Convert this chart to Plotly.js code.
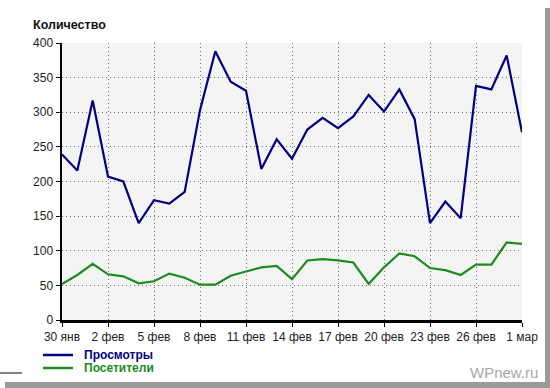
<!DOCTYPE html>
<html>
<head>
<meta charset="utf-8">
<script src="https://cdn.plot.ly/plotly-3.0.1.min.js"></script>
<style>
html,body{margin:0;padding:0;background:#fff;}
#chart{width:550px;height:388px;}
</style>
</head>
<body>
<div id="chart"></div>
<script>
const days = ["30 янв","31 янв","1 фев","2 фев","3 фев","4 фев","5 фев","6 фев","7 фев","8 фев","9 фев","10 фев","11 фев","12 фев","13 фев","14 фев","15 фев","16 фев","17 фев","18 фев","19 фев","20 фев","21 фев","22 фев","23 фев","24 фев","25 фев","26 фев","27 фев","28 фев","1 мар"];
const views = [239,216,317,207,200,140,173,168,185,303,388,344,331,218,261,233,275,292,277,294,325,301,333,290,140,171,147,338,333,382,271];
const visitors = [52,65,81,66,63,53,56,67,61,51,51,64,70,76,78,59,86,88,86,83,52,76,96,92,75,72,65,80,80,112,110];
const tickLabels = ["30 янв","2 фев","5 фев","8 фев","11 фев","14 фев","17 фев","20 фев","23 фев","26 фев","1 мар"];
const seriesNames = ["Просмотры","Посетители"];
const seriesColors = ["#000080","#1E8B1E"];

const traces = [
  {x: days, y: views, type:'scatter', mode:'lines', name:seriesNames[0],
   line:{color:seriesColors[0], width:2.2}},
  {x: days, y: visitors, type:'scatter', mode:'lines', name:seriesNames[1],
   line:{color:seriesColors[1], width:2.2}}
];

// legend drawn as shapes + annotations (pixel positions converted to paper coords)
const PL = 62, PW = 460, PB = 320, PH = 277;
const px = v => (v - PL) / PW;
const py = v => (PB - v) / PH;
const legendY = [355, 368];
const legendShapes = seriesNames.map((n, i) => ({
  type:'line', xref:'paper', yref:'paper', x0:px(43), x1:px(73), y0:py(legendY[i]), y1:py(legendY[i]),
  line:{color:seriesColors[i], width:2.5}
}));
const legendAnn = seriesNames.map((n, i) => ({
  text:'<b>'+n+'</b>', xref:'paper', yref:'paper', x:px(82), y:py(legendY[i]), xanchor:'left', yanchor:'middle',
  showarrow:false, font:{size:12, color:seriesColors[i]}
}));

const layout = {
  width:550, height:388,
  margin:{l:62, r:28, t:43, b:68, autoexpand:false},
  paper_bgcolor:'#ffffff',
  plot_bgcolor:'#f4f4f4',
  font:{family:'"Liberation Sans", Arial, sans-serif', size:12, color:'#222'},
  showlegend:false,
  title:{text:'<b>Количество</b>', xref:'container', yref:'container', x:33/550, y:1-25/388,
    xanchor:'left', yanchor:'middle', font:{size:12.5, color:'#111'}},
  xaxis:{type:'category', range:[0, days.length-1], tickmode:'array', tickvals:tickLabels, ticktext:tickLabels,
    tickangle:0, automargin:false,
    showgrid:true, gridcolor:'#707070', griddash:'1px,3px', gridwidth:1,
    showline:true, linecolor:'#000', linewidth:2.5, ticks:'outside', ticklen:4, tickcolor:'#000', tickwidth:1,
    tickfont:{size:12, color:'#222'}, zeroline:false, fixedrange:true},
  yaxis:{range:[0,400], dtick:50, tick0:0, automargin:false,
    showgrid:true, gridcolor:'#707070', griddash:'1px,3px', gridwidth:1,
    showline:true, linecolor:'#000', linewidth:2.5, ticks:'outside', ticklen:4, tickcolor:'#000', tickwidth:1,
    tickfont:{size:12, color:'#222'}, zeroline:false, fixedrange:true},
  annotations:[
    {text:'WPnew.ru', xref:'paper', yref:'paper', x:px(540), y:py(372), xanchor:'right', yanchor:'middle',
     showarrow:false, font:{size:15, color:'#a8a8a8'}}
  ].concat(legendAnn),
  shapes:[
    {type:'rect', xref:'paper', yref:'paper', x0:px(545), x1:px(550), y0:py(388), y1:py(8),
     fillcolor:'#9a9a9a', line:{width:0}, layer:'above'},
    {type:'rect', xref:'paper', yref:'paper', x0:px(5), x1:px(550), y0:py(388), y1:py(382),
     fillcolor:'#9a9a9a', line:{width:0}, layer:'above'},
    {type:'line', xref:'paper', yref:'paper', x0:px(0), x1:px(22), y0:py(373), y1:py(373),
     line:{color:'#000', width:1}}
  ].concat(legendShapes)
};

Plotly.newPlot('chart', traces, layout, {staticPlot:true, displayModeBar:false});
</script>
</body>
</html>
